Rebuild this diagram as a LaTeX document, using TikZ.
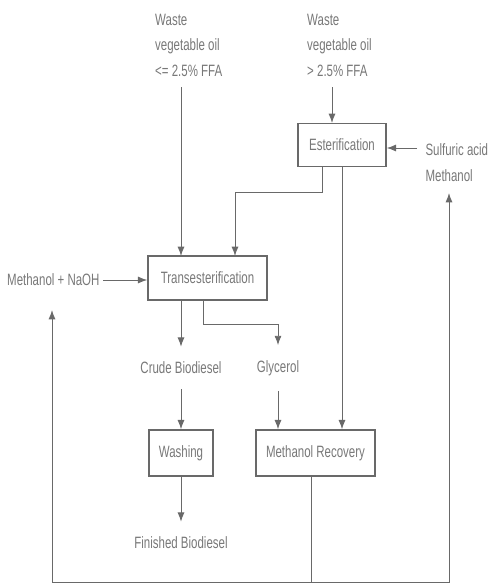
\documentclass[tikz,border=0pt]{standalone}
\usepackage{fontspec}
\setmainfont{Liberation Sans}[FakeStretch=0.7]
\usetikzlibrary{arrows.meta}
\definecolor{linegray}{RGB}{105,105,105}
\definecolor{textgray}{RGB}{120,120,120}
\tikzset{
  flow/.style={draw=linegray, line width=0.8pt, -{Latex[length=2.8mm,width=2.1mm]}},
  pipe/.style={draw=linegray, line width=0.8pt},
  procbox/.style={draw=linegray, line width=1.2pt, text=textgray, inner sep=0pt,
    minimum width=#1, minimum height=1.35cm},
  stream/.style={text=textgray, inner xsep=1mm, inner ysep=0.45cm},
  feed/.style={text=textgray, align=left, inner xsep=0pt, inner ysep=0.3cm}
}
\begin{document}
\begin{tikzpicture}[x=0.03cm, y=-0.03cm, font=\fontsize{14}{22}\selectfont]
\useasboundingbox (0,0) rectangle (489,585);

% feeds
\node[feed, anchor=south west] (wasteA) at (155,87) {Waste\\vegetable oil\\<= 2.5\% FFA};
\node[feed, anchor=south west] (wasteB) at (307,87) {Waste\\vegetable oil\\> 2.5\% FFA};
\node[feed, anchor=west, inner xsep=0.25cm, inner ysep=0pt] (sulf) at (417,163) {Sulfuric acid\\Methanol};
\node[stream, anchor=east, inner ysep=0pt] (naoh) at (103,280) {Methanol + NaOH};

% process units
\node[procbox=2.64cm, minimum height=1.29cm] (ester) at (342,145) {Esterification};
\node[procbox=3.57cm, minimum height=1.32cm] (trans) at (207.5,278) {Transesterification};
\node[procbox=1.92cm, minimum height=1.38cm] (washing) at (181,453) {Washing};
\node[procbox=3.57cm, minimum height=1.38cm] (methrec) at (315.5,453) {Methanol Recovery};

% products
\node[stream] (crude) at (181,368) {Crude Biodiesel};
\node[stream] (glyc) at (278,368) {Glycerol};
\node[stream] (finished) at (181,543) {Finished Biodiesel};

% entry and split points
\coordinate (inA) at (181,256);
\coordinate (inB) at (235,256);
\coordinate (inE) at (332,123);
\coordinate (esplit) at (322,166);
\coordinate (tsplit) at (203,300);
\coordinate (rtop) at (311,476);
\coordinate (rbot) at (311,582);
\coordinate (retL) at (52,310);
\coordinate (retR) at (449,193);

\draw[flow] (wasteA.south -| inA) -- (inA);
\draw[flow] (wasteB.south -| inE) -- (inE);
\draw[flow] (sulf.west |- 0,148) -- (ester.east |- 0,148);
\draw[flow] (esplit) -- ++(0,26) -| (inB);
\draw[flow] (ester.south) -- (ester.south |- methrec.north);
\draw[flow] (naoh.east) -- (naoh.east -| trans.west);
\draw[flow] (trans.south -| crude.north) -- (crude.north);
\draw[flow] (tsplit) -- ++(0,24) -| (glyc.north);
\draw[flow] (crude.south) -- (washing.north);
\draw[flow] (glyc.south) -- (glyc.south |- methrec.north);
\draw[flow] (washing.south) -- (finished.north);

% methanol recycle
\draw[pipe] (rtop) -- (rbot);
\draw[flow] (rbot) -| (retL);
\draw[flow] (rbot) -| (retR);
\end{tikzpicture}
\end{document}
